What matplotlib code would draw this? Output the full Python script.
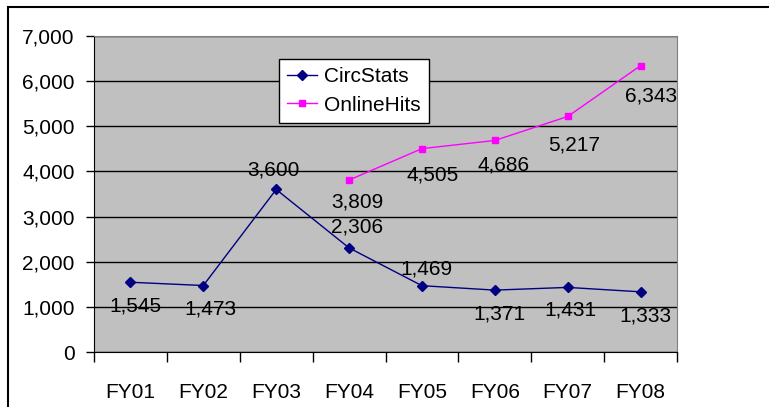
import matplotlib.pyplot as plt
from matplotlib.patches import Rectangle

plt.rcParams['font.family'] = ['Liberation Sans', 'DejaVu Sans']

years = ['FY01', 'FY02', 'FY03', 'FY04', 'FY05', 'FY06', 'FY07', 'FY08']
circ = [1545, 1473, 3600, 2306, 1469, 1371, 1431, 1333]
online_years = ['FY04', 'FY05', 'FY06', 'FY07', 'FY08']
online = [3809, 4505, 4686, 5217, 6343]

# label offsets in pixels (dx, dy)
circ_off = [(5, -24), (7, -23), (-3, 19), (8, 21), (5, 17), (5, -24), (3, -23), (5, -24)]
online_off = [(8, -22), (11, -26), (9, -25), (6, -29), (11, -30)]

fig = plt.figure(figsize=(7.69, 4.07), dpi=100)
ax = fig.add_axes([94 / 769, 1 - 352 / 407, 583 / 769, 316 / 407])
ax.set_facecolor('#c0c0c0')

x_circ = list(range(len(years)))
x_online = [years.index(y) for y in online_years]

ax.plot(x_circ, circ, color='#000080', marker='D', markersize=5, lw=1, label='CircStats')
ax.plot(x_online, online, color='#ff00ff', marker='s', markersize=5, lw=1, label='OnlineHits')

for x, v, (dx, dy) in zip(x_circ, circ, circ_off):
    ax.annotate(f'{v:,}', (x, v), xytext=(dx, dy), textcoords='offset pixels',
                ha='center', va='center', fontsize=15)
for x, v, (dx, dy) in zip(x_online, online, online_off):
    ax.annotate(f'{v:,}', (x, v), xytext=(dx, dy), textcoords='offset pixels',
                ha='center', va='center', fontsize=15)

ax.set_xlim(-0.5, len(years) - 0.5)
ax.set_ylim(0, 7000)
ax.set_yticks(range(0, 7001, 1000))
ax.set_yticklabels([f'{v:,}' for v in range(0, 7001, 1000)], fontsize=15)
ax.yaxis.grid(True, color='black', lw=1)
ax.set_axisbelow(True)

ax.set_xticks(range(len(years)))
ax.set_xticklabels(years, fontsize=15)
ax.set_xticks([i + 0.5 for i in range(-1, len(years))], minor=True)
ax.tick_params(axis='x', which='major', length=0, pad=22)
ax.tick_params(axis='x', which='minor', length=7, width=1, direction='out')
ax.tick_params(axis='y', length=6, width=1, direction='out', pad=8)

ax.spines['left'].set_color('black')
ax.spines['bottom'].set_color('black')
ax.spines['top'].set_color('#808080')
ax.spines['right'].set_color('#808080')

leg = ax.legend(loc='upper left', bbox_to_anchor=((279 - 94) / 583, (352 - 59) / 316),
                fontsize=15, frameon=True, fancybox=False, edgecolor='black',
                framealpha=1, borderpad=0.4, labelspacing=0.45, handlelength=1.4,
                handletextpad=0.35, borderaxespad=0)
leg.get_frame().set_linewidth(1)

fig.patches.append(Rectangle((8 / 769, -0.1), 1.2, 1 - 7 / 407 + 0.1,
                             transform=fig.transFigure, fill=False,
                             edgecolor='black', lw=1.5))

fig.savefig('out.png', dpi=100)
